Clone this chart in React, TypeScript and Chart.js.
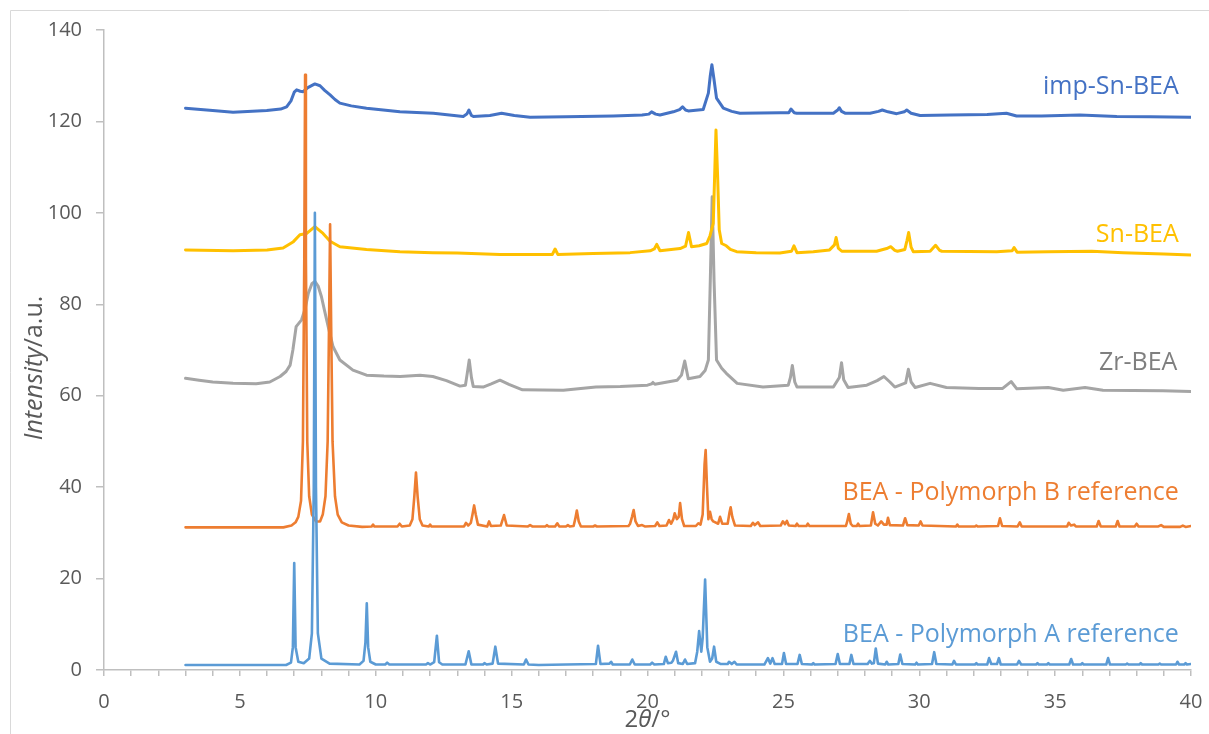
import React, { useEffect, useRef } from "react";
import { Chart, registerables } from "chart.js";

Chart.register(...registerables);

// ---- Data (2θ in degrees, intensity in a.u.) ----
const X_MIN = 0;
const X_MAX = 40;
const X_LABEL_STEP = 5;
const Y_MIN = 0;
const Y_MAX = 140;
const Y_STEP = 20;

const polyA: [number, number][] = [
  [3.0, 1.1], [6.7, 1.1], [6.88, 1.6], [6.95, 5], [7.0, 23.4], [7.05, 5], [7.15, 1.8], [7.35, 1.5],
  [7.55, 2.5], [7.65, 8], [7.72, 40], [7.76, 100], [7.8, 40], [7.87, 8], [8.0, 2.5], [8.3, 1.4],
  [9.4, 1.2], [9.55, 2], [9.62, 6], [9.67, 14.6], [9.72, 5], [9.8, 1.8], [10.0, 1.2], [10.35, 1.2],
  [10.42, 1.6], [10.5, 1.2], [11.85, 1.2], [11.92, 1.5], [12.0, 1.2], [12.15, 1.7], [12.25, 7.5],
  [12.33, 1.7], [12.45, 1.2], [13.3, 1.2], [13.42, 4.1], [13.52, 1.2], [13.95, 1.2], [14.0, 1.5],
  [14.08, 1.2], [14.3, 1.4], [14.4, 5.1], [14.5, 1.4], [15.45, 1.2], [15.53, 2.3], [15.62, 1.2],
  [16.0, 1.1], [17.0, 1.2], [18.1, 1.3], [18.18, 5.3], [18.27, 1.3], [18.6, 1.4], [18.66, 1.8],
  [18.72, 1.2], [19.35, 1.2], [19.44, 2.3], [19.53, 1.2], [20.1, 1.2], [20.17, 1.6], [20.25, 1.2],
  [20.6, 1.3], [20.67, 2.9], [20.75, 1.5], [20.88, 1.6], [20.94, 2.1], [21.05, 4.0], [21.13, 1.5],
  [21.3, 1.3], [21.38, 2.3], [21.46, 1.3], [21.75, 1.5], [21.83, 4], [21.9, 8.5], [21.98, 4],
  [22.03, 7], [22.12, 19.8], [22.2, 5], [22.3, 1.8], [22.38, 2.5], [22.45, 5.1], [22.53, 1.8],
  [22.7, 1.3], [22.95, 1.3], [23.0, 1.8], [23.1, 1.3], [23.2, 1.8], [23.28, 1.2], [24.3, 1.2],
  [24.43, 2.6], [24.52, 1.4], [24.6, 2.6], [24.68, 1.3], [24.95, 1.3], [25.02, 3.7], [25.1, 1.3],
  [25.52, 1.3], [25.6, 3.3], [25.68, 1.3], [26.05, 1.2], [26.1, 1.5], [26.15, 1.2], [26.92, 1.3],
  [27.0, 3.5], [27.08, 1.3], [27.43, 1.3], [27.5, 3.3], [27.58, 1.3], [28.1, 1.3], [28.18, 2],
  [28.26, 1.4], [28.33, 1.5], [28.4, 4.7], [28.48, 1.4], [28.75, 1.2], [28.8, 1.8], [28.86, 1.2],
  [29.23, 1.3], [29.3, 3.4], [29.38, 1.3], [29.85, 1.2], [29.9, 1.6], [29.95, 1.2], [30.47, 1.3],
  [30.55, 3.9], [30.63, 1.3], [31.22, 1.2], [31.28, 2], [31.35, 1.2], [32.05, 1.2], [32.1, 1.5],
  [32.15, 1.2], [32.5, 1.2], [32.57, 2.6], [32.65, 1.3], [32.86, 1.3], [32.93, 2.6], [33.0, 1.2],
  [33.6, 1.2], [33.67, 2], [33.75, 1.2], [34.3, 1.2], [34.35, 1.5], [34.4, 1.2], [34.7, 1.2],
  [34.75, 1.5], [34.8, 1.2], [35.52, 1.2], [35.59, 2.4], [35.66, 1.2], [35.95, 1.2], [36.0, 1.5],
  [36.05, 1.2], [36.88, 1.2], [36.95, 2.6], [37.02, 1.2], [37.6, 1.2], [37.65, 1.4], [37.7, 1.2],
  [38.1, 1.2], [38.15, 1.5], [38.2, 1.2], [38.8, 1.2], [38.85, 1.4], [38.9, 1.2], [39.45, 1.2],
  [39.5, 1.8], [39.56, 1.2], [39.75, 1.2], [39.8, 1.5], [39.85, 1.2], [40.0, 1.3],
];

const polyB: [number, number][] = [
  [3.0, 31.2], [6.6, 31.2], [6.9, 31.6], [7.05, 32.3], [7.15, 33.5], [7.25, 37], [7.32, 50],
  [7.37, 90], [7.4, 130.2], [7.43, 90], [7.48, 50], [7.55, 38], [7.65, 34], [7.8, 32.5],
  [7.95, 32.5], [8.05, 34], [8.15, 38], [8.23, 50], [8.28, 75], [8.32, 97.5], [8.36, 75],
  [8.41, 50], [8.5, 38], [8.6, 34], [8.75, 32.3], [9.0, 31.6], [9.5, 31.3], [9.85, 31.4],
  [9.9, 31.8], [9.95, 31.4], [10.8, 31.4], [10.88, 32], [10.96, 31.4], [11.25, 31.6], [11.35, 33],
  [11.42, 38], [11.48, 43.2], [11.54, 38], [11.62, 33], [11.72, 31.6], [11.95, 31.4], [12.0, 31.8],
  [12.05, 31.4], [13.25, 31.4], [13.32, 32.2], [13.4, 31.6], [13.5, 32.2], [13.56, 34], [13.62, 36],
  [13.68, 34], [13.76, 31.8], [14.1, 31.4], [14.17, 32.5], [14.24, 31.5], [14.6, 31.6], [14.72, 33.9],
  [14.82, 31.6], [15.6, 31.4], [15.68, 31.7], [15.76, 31.4], [16.25, 31.4], [16.3, 31.7], [16.35, 31.4],
  [16.6, 31.4], [16.68, 32.1], [16.75, 31.4], [17.0, 31.4], [17.07, 31.7], [17.14, 31.4], [17.28, 31.5],
  [17.34, 33], [17.4, 34.9], [17.47, 32.5], [17.55, 31.4], [18.0, 31.4], [18.07, 31.6], [18.14, 31.4],
  [19.3, 31.5], [19.36, 32], [19.43, 33.5], [19.49, 35], [19.56, 32.5], [19.65, 31.5], [19.8, 31.7],
  [19.9, 31.4], [20.28, 31.5], [20.36, 32.3], [20.44, 31.5], [20.7, 31.6], [20.79, 32.8], [20.87, 32],
  [20.95, 33], [21.0, 34.3], [21.08, 33], [21.15, 33.5], [21.2, 36.5], [21.27, 33], [21.35, 31.5],
  [21.78, 31.5], [21.87, 32.1], [21.95, 31.8], [22.03, 34], [22.1, 45], [22.14, 48.1], [22.19, 40],
  [22.24, 33], [22.3, 34.6], [22.36, 33], [22.42, 32.5], [22.6, 32], [22.67, 33.5], [22.75, 32],
  [22.95, 32], [23.02, 34.5], [23.06, 35.6], [23.12, 33.5], [23.22, 31.6], [23.8, 31.5], [23.88, 32.2],
  [23.95, 31.7], [24.07, 32.3], [24.15, 31.5], [24.9, 31.6], [24.98, 32.5], [25.06, 31.9], [25.13, 32.6],
  [25.2, 31.6], [25.45, 31.5], [25.5, 32], [25.56, 31.5], [25.85, 31.5], [25.9, 32], [25.96, 31.5],
  [27.3, 31.5], [27.35, 32.5], [27.41, 34.1], [27.48, 32], [27.55, 31.5], [27.7, 31.5], [27.75, 32],
  [27.8, 31.5], [28.22, 31.6], [28.3, 34.5], [28.38, 32], [28.48, 31.6], [28.6, 32.5], [28.7, 31.8],
  [28.8, 31.8], [28.85, 33.3], [28.92, 31.7], [29.4, 31.6], [29.48, 33.2], [29.56, 31.7], [29.98, 31.6],
  [30.05, 32.5], [30.12, 31.6], [31.35, 31.4], [31.4, 31.8], [31.45, 31.4], [32.05, 31.4], [32.1, 31.6],
  [32.15, 31.4], [32.9, 31.5], [32.97, 33.2], [33.05, 31.5], [33.62, 31.4], [33.7, 32.3], [33.77, 31.4],
  [35.44, 31.4], [35.5, 32.2], [35.58, 31.6], [35.7, 31.8], [35.76, 31.4], [36.53, 31.4], [36.6, 32.6],
  [36.68, 31.4], [37.23, 31.4], [37.3, 32.6], [37.37, 31.4], [37.93, 31.4], [38.0, 32], [38.07, 31.4],
  [38.8, 31.4], [38.9, 31.7], [39.0, 31.3], [39.6, 31.3], [39.7, 31.6], [39.8, 31.3], [40.0, 31.5],
];

const zrBEA: [number, number][] = [
  [3.0, 63.8], [3.5, 63.4], [4.0, 63.0], [4.75, 62.7], [5.6, 62.6], [6.1, 63.0], [6.48, 64.2],
  [6.7, 65.3], [6.85, 66.7], [6.95, 70], [7.07, 75.1], [7.27, 76.6], [7.4, 79], [7.52, 82.4],
  [7.65, 84.5], [7.76, 85], [7.88, 84], [8.0, 81.7], [8.12, 78.5], [8.25, 75.1], [8.43, 70.7],
  [8.68, 67.8], [9.16, 65.6], [9.66, 64.5], [10.3, 64.3], [10.9, 64.2], [11.63, 64.5], [12.1, 64.2],
  [12.6, 63.3], [13.1, 62.1], [13.3, 62.3], [13.37, 65], [13.44, 67.8], [13.52, 64], [13.59, 62],
  [13.95, 61.9], [14.25, 62.6], [14.57, 63.4], [14.9, 62.5], [15.4, 61.3], [16.9, 61.2], [18.1, 61.9],
  [19.0, 62.0], [20.0, 62.3], [20.15, 62.6], [20.2, 62.9], [20.27, 62.5], [21.09, 63.4], [21.25, 64.5],
  [21.37, 67.6], [21.5, 63.7], [21.93, 64.2], [22.12, 65.5], [22.24, 67.8], [22.31, 85], [22.38, 103.5],
  [22.45, 85], [22.54, 67.8], [22.73, 66], [22.9, 64.9], [23.3, 62.7], [24.25, 61.9], [25.18, 62.3],
  [25.26, 64], [25.33, 66.6], [25.42, 63], [25.5, 61.9], [26.84, 61.9], [27.06, 64], [27.14, 67.2],
  [27.22, 63.5], [27.38, 61.8], [28.07, 62.3], [28.45, 63.3], [28.7, 64.2], [28.92, 63], [29.1, 61.9],
  [29.5, 62.8], [29.6, 65.8], [29.7, 63], [29.85, 61.8], [30.4, 62.7], [31.0, 61.8], [32.2, 61.6],
  [33.07, 61.6], [33.38, 63.1], [33.59, 61.5], [34.75, 61.8], [35.3, 61.2], [36.1, 61.8], [36.76, 61.2],
  [38.97, 61.1], [40.0, 60.9],
];

const snBEA: [number, number][] = [
  [3.0, 91.9], [4.75, 91.7], [6.0, 91.9], [6.59, 92.3], [6.97, 93.7], [7.21, 95.2], [7.46, 95.5],
  [7.76, 97], [8.06, 95.5], [8.32, 93.8], [8.68, 92.6], [9.66, 92.0], [10.89, 91.5], [12.1, 91.3],
  [13.0, 91.2], [14.57, 90.9], [15.5, 90.9], [16.5, 90.9], [16.6, 92.1], [16.7, 90.9], [18.0, 91.1],
  [19.36, 91.3], [20.1, 91.7], [20.25, 92.1], [20.34, 93.1], [20.46, 91.7], [21.2, 92.2], [21.4, 92.7],
  [21.51, 95.7], [21.62, 92.6], [21.9, 92.8], [22.18, 93.3], [22.3, 95], [22.42, 97.7], [22.48, 110],
  [22.52, 118.1], [22.58, 108], [22.64, 96.3], [22.73, 93.3], [22.9, 92.8], [23.05, 92], [23.28, 91.5],
  [24.0, 91.3], [24.87, 91.2], [25.3, 91.6], [25.39, 92.8], [25.5, 91.3], [26.1, 91.5], [26.7, 91.9],
  [26.88, 93], [26.94, 94.6], [27.02, 92.3], [27.15, 91.6], [28.43, 91.6], [28.8, 92.2], [28.95, 92.6],
  [29.1, 91.8], [29.2, 91.6], [29.47, 92], [29.55, 94], [29.61, 95.7], [29.7, 92.5], [29.78, 91.5],
  [30.4, 91.6], [30.6, 92.9], [30.75, 91.8], [30.83, 91.6], [32.85, 91.5], [33.42, 91.7], [33.49, 92.4],
  [33.6, 91.4], [34.75, 91.5], [36.35, 91.6], [37.5, 91.3], [39.0, 91.0], [40.0, 90.8],
];

const impSnBEA: [number, number][] = [
  [3.0, 122.9], [4.0, 122.4], [4.75, 122.0], [5.99, 122.4], [6.5, 122.7], [6.72, 123.2], [6.88, 124.5],
  [7.0, 126.4], [7.09, 126.9], [7.22, 126.6], [7.33, 126.5], [7.5, 127.4], [7.76, 128.2], [7.95, 127.8],
  [8.12, 126.8], [8.32, 125.8], [8.5, 124.8], [8.68, 124], [9.1, 123.4], [9.66, 122.9], [10.89, 122.1],
  [12.12, 121.8], [13.22, 121.1], [13.35, 121.6], [13.43, 122.5], [13.52, 121.3], [13.59, 121.1],
  [14.2, 121.3], [14.63, 121.8], [15.1, 121.3], [15.68, 120.9], [17.0, 121.0], [18.74, 121.2],
  [19.8, 121.4], [20.05, 121.6], [20.15, 122.1], [20.3, 121.6], [20.46, 121.4], [20.95, 122.1],
  [21.18, 122.6], [21.29, 123.2], [21.4, 122.5], [21.5, 122.3], [22.05, 122.6], [22.24, 126.2],
  [22.31, 130], [22.37, 132.4], [22.44, 129.5], [22.54, 125.1], [22.79, 122.9], [23.1, 122.2],
  [23.4, 121.8], [24.88, 121.9], [25.2, 121.9], [25.28, 122.7], [25.4, 121.9], [25.49, 121.8],
  [26.84, 121.8], [27.0, 122.5], [27.06, 123], [27.14, 122.2], [27.27, 121.8], [28.19, 121.8],
  [28.5, 122.2], [28.64, 122.5], [28.85, 122.1], [29.17, 121.7], [29.45, 122.1], [29.54, 122.5],
  [29.7, 121.8], [30.03, 121.3], [31.13, 121.4], [32.5, 121.5], [33.21, 121.8], [33.58, 121.2],
  [34.5, 121.2], [35.91, 121.4], [37.27, 121.1], [38.5, 121.0], [40.0, 120.9],
];

// Series names and their in-plot label anchors (data units, right-aligned baseline)
const SERIES_LABELS = [
  { text: "imp-Sn-BEA", color: "#4472C4", x: 39.55, y: 125.9 },
  { text: "Sn-BEA", color: "#FFC000", x: 39.55, y: 93.7 },
  { text: "Zr-BEA", color: "#7F7F7F", x: 39.5, y: 65.6 },
  { text: "BEA - Polymorph B reference", color: "#ED7D31", x: 39.55, y: 37.2 },
  { text: "BEA - Polymorph A reference", color: "#5B9BD5", x: 39.55, y: 6.2 },
];

const FONT = "'Open Sans', 'DejaVu Sans', sans-serif";
const AXIS_GRAY = "#BFBFBF";
const TEXT_GRAY = "#595959";

type Part = { t: string; italic?: boolean };

function drawMixed(ctx: CanvasRenderingContext2D, parts: Part[], cx: number, baseline: number, size: number) {
  let total = 0;
  const widths = parts.map((p) => {
    ctx.font = `${p.italic ? "italic " : ""}${size}px ${FONT}`;
    const w = ctx.measureText(p.t).width;
    total += w;
    return w;
  });
  let x = cx - total / 2;
  parts.forEach((p, i) => {
    ctx.font = `${p.italic ? "italic " : ""}${size}px ${FONT}`;
    ctx.fillText(p.t, x, baseline);
    x += widths[i];
  });
}

const annotationPlugin = {
  id: "annotations",
  afterDraw(chart: any) {
    const ctx: CanvasRenderingContext2D = chart.ctx;
    const xs = chart.scales.x;
    const ys = chart.scales.y;
    ctx.save();
    // chart-area frame (left/top)
    ctx.strokeStyle = "#D9D9D9";
    ctx.lineWidth = 1;
    ctx.beginPath();
    ctx.moveTo(10.5, 734);
    ctx.lineTo(10.5, 10.5);
    ctx.lineTo(1209, 10.5);
    ctx.stroke();

    // series labels
    ctx.font = `25px ${FONT}`;
    ctx.textAlign = "right";
    ctx.textBaseline = "alphabetic";
    for (const l of SERIES_LABELS) {
      ctx.fillStyle = l.color;
      ctx.fillText(l.text, xs.getPixelForValue(l.x), ys.getPixelForValue(l.y));
    }

    // axis titles
    ctx.textAlign = "left";
    ctx.fillStyle = TEXT_GRAY;
    const xMid = (xs.left + xs.right) / 2;
    drawMixed(ctx, [{ t: "2" }, { t: "θ", italic: true }, { t: "/°" }], xMid, 727, 24);

    ctx.translate(42, 368);
    ctx.rotate(-Math.PI / 2);
    drawMixed(ctx, [{ t: "Intensity", italic: true }, { t: "/a.u." }], 0, 0, 25);
    ctx.restore();
  },
};

const toXY = (arr: [number, number][]) => arr.map(([x, y]) => ({ x, y }));

export default function App() {
  const canvasRef = useRef<HTMLCanvasElement | null>(null);

  useEffect(() => {
    const canvas = canvasRef.current;
    if (!canvas) return;
    const line = (label: string, data: [number, number][], color: string, width: number) => ({
      label,
      data: toXY(data),
      borderColor: color,
      backgroundColor: color,
      borderWidth: width,
      pointRadius: 0,
      tension: 0,
      fill: false,
      borderJoinStyle: "round" as const,
      borderCapStyle: "round" as const,
    });
    const chart = new Chart(canvas, {
      type: "line",
      data: {
        datasets: [
          line("BEA - Polymorph A reference", polyA, "#5B9BD5", 2.6),
          line("BEA - Polymorph B reference", polyB, "#ED7D31", 2.6),
          line("imp-Sn-BEA", impSnBEA, "#4472C4", 3),
          line("Sn-BEA", snBEA, "#FFC000", 3),
          line("Zr-BEA", zrBEA, "#A5A5A5", 3),
        ],
      },
      options: {
        animation: false,
        responsive: false,
        devicePixelRatio: 1,
        layout: { padding: { left: 0, right: 18, top: 30, bottom: 0 } },
        plugins: {
          legend: { display: false },
          tooltip: { enabled: false },
          title: { display: false },
        },
        scales: {
          x: {
            type: "linear",
            min: X_MIN,
            max: X_MAX,
            border: { display: true, color: AXIS_GRAY, width: 1.5 },
            grid: {
              display: true,
              drawOnChartArea: false,
              drawTicks: true,
              tickLength: 6,
              color: AXIS_GRAY,
              tickColor: AXIS_GRAY,
              lineWidth: 1.5,
            },
            ticks: {
              stepSize: 1,
              autoSkip: false,
              maxTicksLimit: 100,
              maxRotation: 0,
              padding: 14,
              color: TEXT_GRAY,
              font: { family: FONT, size: 20 },
              callback: (v: any) => (Number(v) % X_LABEL_STEP === 0 ? String(v) : ""),
            },
            afterFit: (s: any) => {
              s.height = 64;
              s.paddingLeft = 0;
              s.paddingRight = 0;
            },
          },
          y: {
            type: "linear",
            min: Y_MIN,
            max: Y_MAX,
            border: { display: true, color: AXIS_GRAY, width: 1.5 },
            grid: {
              display: true,
              drawOnChartArea: false,
              drawTicks: true,
              tickLength: 8,
              color: AXIS_GRAY,
              tickColor: AXIS_GRAY,
              lineWidth: 1.5,
            },
            ticks: {
              stepSize: Y_STEP,
              padding: 14,
              color: TEXT_GRAY,
              font: { family: FONT, size: 20 },
            },
            afterFit: (s: any) => {
              s.width = 104;
              s.paddingTop = 0;
              s.paddingBottom = 0;
            },
          },
        },
      },
      plugins: [annotationPlugin],
    });
    return () => chart.destroy();
  }, []);

  return (
    <div style={{ position: "fixed", left: 0, top: 0, width: 1209, height: 734, background: "#fff" }}>
      <canvas ref={canvasRef} width={1209} height={734} style={{ display: "block" }} />
    </div>
  );
}
